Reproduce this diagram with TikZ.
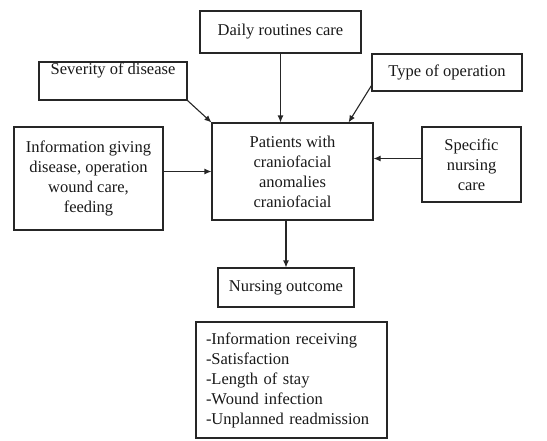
\documentclass[tikz,border=0pt]{standalone}
\usepackage{fontspec}
\setmainfont{Liberation Serif}
\usepackage{tikz}
\usetikzlibrary{calc, positioning, arrows.meta}

\begin{document}
\begin{tikzpicture}[
  x=1pt, y=-1pt,
  caja/.style={
    rectangle, draw=black!85, line width=1.1pt,
    inner sep=0pt, align=center, text=black!90,
    font=\fontsize{16.5}{20}\selectfont
  },
  factor/.style={caja},
  lista/.style={caja, align=left, text width=171pt},
  flecha/.style={-{Latex[length=7pt, width=6pt]}, line width=1.1pt, black!85}
]

%% márgenes de la imagen original
\useasboundingbox (0,0) rectangle (547,440);

%% FACTORES
\node[factor, minimum width=161pt, minimum height=42pt] (DRC) at (280.5, 32) {Daily routines care};
\node[factor, minimum width=148pt, text height=12pt, text depth=26pt] (SEV) at (113, 81) {Severity of disease};
\node[factor, minimum width=150pt, minimum height=37pt] (TOP) at (447, 72.5) {Type of operation};
\node[factor, minimum width=149pt, minimum height=103pt] (INF) at (88.5, 178.5)
  {Information giving\\disease, operation\\wound care,\\feeding};
\node[factor, minimum width=99pt, minimum height=75pt] (SNC) at (471.5, 164.5)
  {Specific\\nursing\\care};

%% CENTRO
\node[caja, minimum width=161pt, minimum height=97pt] (PAC) at (292.5, 171.5)
  {Patients with\\craniofacial\\anomalies\\craniofacial};

%% RESULTADO
\node[caja, minimum width=136pt, minimum height=39pt] (OUT) at (286, 287.5) {Nursing outcome};
\node[lista, minimum width=191pt, minimum height=116pt] (LIS) at (291.5, 380)
  {-Information receiving\\-Satisfaction\\-Length of stay\\-Wound infection\\-Unplanned readmission};

%% flechas hacia el centro
\draw[flecha] (DRC.south) -- (DRC.south |- PAC.north);
\draw[flecha] (SEV.south east) -- (PAC.north west);
\draw[flecha] ([yshift=6pt]TOP.south west) -- ([xshift=-25pt]PAC.north east);
\draw[flecha] (INF.east |- PAC.west) -- (PAC.west);
\draw[flecha] ([yshift=6pt]SNC.west) -- ([yshift=6pt]SNC.west -| PAC.east);

%% flecha hacia el resultado
\draw[flecha] (PAC.south -| OUT.north) -- (OUT.north);

\end{tikzpicture}
\end{document}
